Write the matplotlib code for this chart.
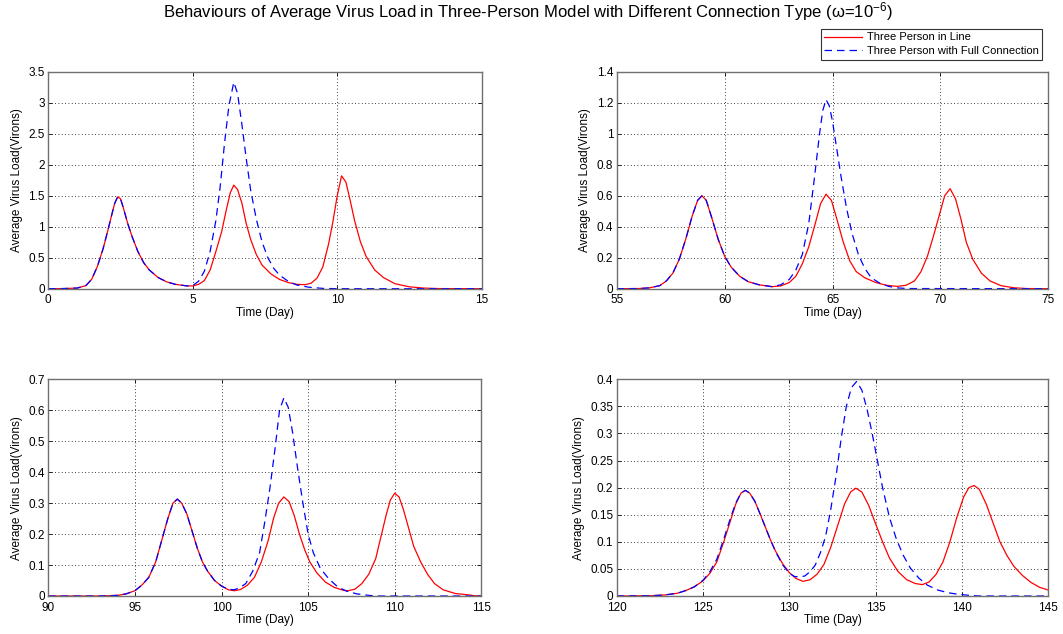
import numpy as np
import matplotlib
matplotlib.use("Agg")
import matplotlib.pyplot as plt
from matplotlib.ticker import FuncFormatter

plt.rcParams['font.family'] = ['Liberation Sans', 'DejaVu Sans']
plt.rcParams['mathtext.fontset'] = 'custom'
plt.rcParams['mathtext.rm'] = 'Liberation Sans'
plt.rcParams['mathtext.it'] = 'Liberation Sans'

# Panel 1: days 0-15
t1_line = [0, 0.5, 1.0, 1.3, 1.5, 1.7, 1.9, 2.05, 2.2, 2.3, 2.4, 2.5, 2.6, 2.75, 2.9, 3.1, 3.3, 3.5, 3.8, 4.1,
           4.4, 4.8, 5.0, 5.2, 5.4, 5.6, 5.8, 6.0, 6.15, 6.3, 6.42, 6.55, 6.7, 6.85, 7.0, 7.2, 7.4, 7.7, 8.0,
           8.3, 8.6, 8.9, 9.1, 9.3, 9.5, 9.7, 9.85, 10.0, 10.15, 10.3, 10.45, 10.6, 10.8, 11.0, 11.3, 11.6,
           12.0, 12.5, 13.0, 13.5, 15]
v1_line = [0, 0.002, 0.01, 0.05, 0.15, 0.36, 0.65, 0.92, 1.2, 1.38, 1.48, 1.45, 1.3, 1.05, 0.84, 0.6, 0.42, 0.3,
           0.18, 0.11, 0.07, 0.045, 0.045, 0.07, 0.13, 0.3, 0.6, 0.92, 1.25, 1.55, 1.67, 1.6, 1.38, 1.05, 0.8,
           0.55, 0.38, 0.24, 0.15, 0.1, 0.07, 0.065, 0.09, 0.17, 0.35, 0.72, 1.08, 1.5, 1.82, 1.72, 1.42, 1.1,
           0.76, 0.52, 0.3, 0.18, 0.08, 0.03, 0.01, 0.002, 0]
t1_full = [0, 0.5, 1.0, 1.3, 1.5, 1.7, 1.9, 2.05, 2.2, 2.3, 2.4, 2.5, 2.6, 2.75, 2.9, 3.1, 3.3, 3.5, 3.8, 4.1,
           4.4, 4.8, 5.0, 5.2, 5.4, 5.6, 5.8, 5.95, 6.1, 6.25, 6.42, 6.55, 6.7, 6.85, 7.0, 7.2, 7.4, 7.6, 7.8,
           8.0, 8.3, 8.6, 9.0, 9.5, 10, 15]
v1_full = [0, 0.002, 0.01, 0.05, 0.15, 0.36, 0.65, 0.92, 1.2, 1.38, 1.48, 1.45, 1.3, 1.05, 0.84, 0.6, 0.42, 0.3,
           0.18, 0.11, 0.07, 0.045, 0.05, 0.12, 0.28, 0.6, 1.1, 1.65, 2.35, 2.95, 3.33, 3.15, 2.65, 2.1, 1.6,
           1.12, 0.75, 0.5, 0.33, 0.22, 0.12, 0.06, 0.025, 0.005, 0, 0]

# Panel 2: days 55-75
t2_line = [55, 56, 56.5, 57, 57.3, 57.6, 57.9, 58.2, 58.5, 58.75, 58.95, 59.15, 59.4, 59.7, 60.0, 60.3, 60.7,
           61.1, 61.6, 62.2, 62.6, 63.0, 63.3, 63.6, 63.9, 64.2, 64.45, 64.7, 64.95, 65.2, 65.5, 65.8, 66.1,
           66.5, 67.0, 67.5, 68.0, 68.4, 68.8, 69.1, 69.4, 69.7, 70.0, 70.2, 70.45, 70.7, 70.95, 71.2, 71.5,
           71.9, 72.3, 72.8, 73.4, 74, 75]
v2_line = [0, 0.001, 0.005, 0.02, 0.05, 0.1, 0.19, 0.32, 0.47, 0.57, 0.6, 0.57, 0.46, 0.32, 0.21, 0.14, 0.08,
           0.045, 0.025, 0.013, 0.018, 0.04, 0.08, 0.16, 0.27, 0.42, 0.55, 0.61, 0.57, 0.45, 0.3, 0.18, 0.11,
           0.07, 0.04, 0.022, 0.015, 0.022, 0.05, 0.11, 0.21, 0.35, 0.5, 0.6, 0.645, 0.58, 0.45, 0.3, 0.19,
           0.1, 0.05, 0.02, 0.006, 0.001, 0]
t2_full = [55, 56, 56.5, 57, 57.3, 57.6, 57.9, 58.2, 58.5, 58.75, 58.95, 59.15, 59.4, 59.7, 60.0, 60.3, 60.7,
           61.1, 61.6, 62.2, 62.6, 63.0, 63.3, 63.6, 63.9, 64.15, 64.4, 64.55, 64.7, 64.85, 65.0, 65.2, 65.4,
           65.65, 65.9, 66.2, 66.5, 66.8, 67.2, 67.6, 68.0, 68.5, 75]
v2_full = [0, 0.001, 0.005, 0.02, 0.05, 0.1, 0.19, 0.32, 0.47, 0.57, 0.6, 0.57, 0.46, 0.32, 0.21, 0.14, 0.08,
           0.045, 0.025, 0.013, 0.025, 0.06, 0.12, 0.22, 0.42, 0.7, 1.0, 1.15, 1.22, 1.18, 1.08, 0.9, 0.72,
           0.52, 0.36, 0.22, 0.13, 0.07, 0.035, 0.015, 0.005, 0.001, 0]

# Panel 3: days 90-115
t3_line = [90, 93, 94, 94.5, 95.0, 95.4, 95.8, 96.2, 96.6, 96.9, 97.2, 97.45, 97.7, 98.0, 98.3, 98.6, 98.9,
           99.2, 99.6, 100.0, 100.4, 100.75, 101.1, 101.5, 101.9, 102.3, 102.7, 103.0, 103.3, 103.6, 103.9,
           104.2, 104.5, 104.8, 105.1, 105.5, 106.0, 106.5, 107.0, 107.3, 107.7, 108.1, 108.5, 108.9, 109.2,
           109.5, 109.75, 110.0, 110.25, 110.5, 110.8, 111.1, 111.5, 111.9, 112.3, 112.8, 113.5, 114.2, 114.6, 115]
v3_line = [0, 0, 0.002, 0.007, 0.017, 0.035, 0.06, 0.11, 0.19, 0.25, 0.3, 0.313, 0.3, 0.265, 0.21, 0.155, 0.11,
           0.08, 0.05, 0.032, 0.02, 0.017, 0.021, 0.035, 0.06, 0.11, 0.18, 0.25, 0.3, 0.32, 0.305, 0.26, 0.2,
           0.15, 0.11, 0.075, 0.045, 0.028, 0.019, 0.017, 0.022, 0.04, 0.07, 0.12, 0.19, 0.26, 0.31, 0.332,
           0.32, 0.28, 0.22, 0.16, 0.11, 0.07, 0.04, 0.02, 0.008, 0.004, 0.001, 0]
t3_full = [90, 93, 94, 94.5, 95.0, 95.4, 95.8, 96.2, 96.6, 96.9, 97.2, 97.45, 97.7, 98.0, 98.3, 98.6, 98.9,
           99.2, 99.6, 100.0, 100.4, 100.7, 101.0, 101.4, 101.8, 102.2, 102.5, 102.8, 103.1, 103.35, 103.6,
           103.85, 104.1, 104.4, 104.7, 105.0, 105.3, 105.7, 106.2, 106.7, 107.2, 107.8, 108.5, 109, 115]
v3_full = [0, 0, 0.002, 0.007, 0.017, 0.035, 0.06, 0.11, 0.19, 0.25, 0.3, 0.313, 0.3, 0.265, 0.21, 0.155, 0.11,
           0.08, 0.05, 0.032, 0.022, 0.02, 0.025, 0.04, 0.08, 0.14, 0.24, 0.35, 0.48, 0.6, 0.64, 0.61, 0.53,
           0.41, 0.3, 0.2, 0.14, 0.09, 0.055, 0.03, 0.016, 0.007, 0.002, 0, 0]

# Panel 4: days 120-145
t4_line = [120, 122, 122.8, 123.5, 124.0, 124.5, 125.0, 125.4, 125.8, 126.2, 126.6, 126.9, 127.2, 127.45, 127.7,
           128.0, 128.3, 128.6, 128.9, 129.2, 129.6, 130.0, 130.4, 130.8, 131.2, 131.6, 132.0, 132.4, 132.8,
           133.2, 133.55, 133.85, 134.2, 134.6, 135.0, 135.4, 135.8, 136.3, 136.8, 137.3, 137.7, 138.1, 138.5,
           138.9, 139.3, 139.7, 140.1, 140.4, 140.7, 141.0, 141.4, 141.8, 142.2, 142.6, 143.0, 143.5, 144.0,
           144.5, 145]
v4_line = [0, 0.0005, 0.002, 0.005, 0.01, 0.017, 0.028, 0.042, 0.063, 0.1, 0.14, 0.17, 0.19, 0.195, 0.19,
           0.175, 0.152, 0.128, 0.104, 0.083, 0.06, 0.043, 0.032, 0.027, 0.03, 0.04, 0.058, 0.09, 0.13, 0.17,
           0.192, 0.199, 0.192, 0.167, 0.133, 0.1, 0.07, 0.045, 0.03, 0.023, 0.021, 0.026, 0.04, 0.063, 0.1,
           0.145, 0.183, 0.2, 0.204, 0.197, 0.17, 0.135, 0.1, 0.075, 0.055, 0.038, 0.025, 0.016, 0.011]
t4_full = [120, 122, 122.8, 123.5, 124.0, 124.5, 125.0, 125.4, 125.8, 126.2, 126.6, 126.9, 127.2, 127.45, 127.7,
           128.0, 128.3, 128.6, 128.9, 129.2, 129.6, 130.0, 130.3, 130.6, 130.9, 131.2, 131.5, 131.8, 132.1,
           132.4, 132.7, 133.0, 133.3, 133.6, 133.9, 134.2, 134.5, 134.8, 135.1, 135.4, 135.8, 136.2, 136.6,
           137.0, 137.5, 138.0, 138.6, 139.2, 139.8, 140.5, 141, 145]
v4_full = [0, 0.0005, 0.002, 0.005, 0.01, 0.017, 0.029, 0.045, 0.068, 0.105, 0.145, 0.172, 0.19, 0.195, 0.19,
           0.175, 0.152, 0.128, 0.104, 0.082, 0.058, 0.042, 0.036, 0.035, 0.037, 0.045, 0.057, 0.08, 0.11,
           0.16, 0.22, 0.29, 0.35, 0.385, 0.396, 0.38, 0.345, 0.3, 0.25, 0.2, 0.145, 0.105, 0.075, 0.052,
           0.033, 0.02, 0.011, 0.006, 0.003, 0.001, 0, 0]

panels = [
    (t1_line, v1_line, t1_full, v1_full, (0, 15), [0, 5, 10, 15], (0, 3.5), np.arange(0, 3.51, 0.5)),
    (t2_line, v2_line, t2_full, v2_full, (55, 75), [55, 60, 65, 70, 75], (0, 1.4), np.arange(0, 1.41, 0.2)),
    (t3_line, v3_line, t3_full, v3_full, (90, 115), [90, 95, 100, 105, 110, 115], (0, 0.7), np.arange(0, 0.71, 0.1)),
    (t4_line, v4_line, t4_full, v4_full, (120, 145), [120, 125, 130, 135, 140, 145], (0, 0.4), np.arange(0, 0.401, 0.05)),
]

W, H = 1063, 634
fig = plt.figure(figsize=(W / 100, H / 100), dpi=100)

# axes boxes in pixels: left, top, right, bottom
boxes = [(48.3, 71.7, 481.7, 288.7), (616.7, 71.7, 1048.3, 288.7),
         (48.3, 379.3, 481.3, 596), (616.7, 379.3, 1048.3, 596)]

fmt = FuncFormatter(lambda v, p: f"{round(v, 4):g}")

for (tl, vl, tf, vf, xlim, xt, ylim, yt), (l, t, r, b) in zip(panels, boxes):
    ax = fig.add_axes([l / W, 1 - b / H, (r - l) / W, (b - t) / H])
    h1, = ax.plot(tl, vl, color='#ff0000', lw=0.9)
    h2, = ax.plot(tf, vf, color='#0000ff', lw=0.9, ls=(0, (6, 4)))
    ax.set_xlim(xlim)
    ax.set_ylim(ylim)
    ax.set_xticks(xt)
    ax.set_yticks(yt)
    ax.xaxis.set_major_formatter(fmt)
    ax.yaxis.set_major_formatter(fmt)
    ax.grid(True, ls=(0, (1, 3)), color='black', lw=0.6)
    ax.tick_params(direction='in', length=3, labelsize=8.5, width=0.6, top=True, right=True)
    ax.tick_params(axis='x', pad=4)
    ax.tick_params(axis='y', pad=2.5)
    for s in ax.spines.values():
        s.set_color('#707070')
        s.set_linewidth(1.0)
    ax.set_xlabel('Time (Day)', fontsize=8.5, labelpad=0.5)
    ax.set_ylabel('Average Virus Load(Virons)', fontsize=8.5, labelpad=4)

fig.text(528 / W, 1 - 12 / H,
         'Behaviours of Average Virus Load in Three-Person Model with Different Connection Type (ω=10$^{-6}$)',
         ha='center', va='center', fontsize=12)

leg = fig.legend([h1, h2], ['Three Person in Line', 'Three Person with Full Connection'],
                 loc='upper right', bbox_to_anchor=(1048 / W, 1 - 23 / H), fontsize=8,
                 fancybox=False, handlelength=3.4, borderpad=0.35, labelspacing=0.35, handletextpad=0.4)
leg.get_frame().set_edgecolor('black')
leg.get_frame().set_linewidth(0.8)

fig.savefig('out.png', dpi=100)
